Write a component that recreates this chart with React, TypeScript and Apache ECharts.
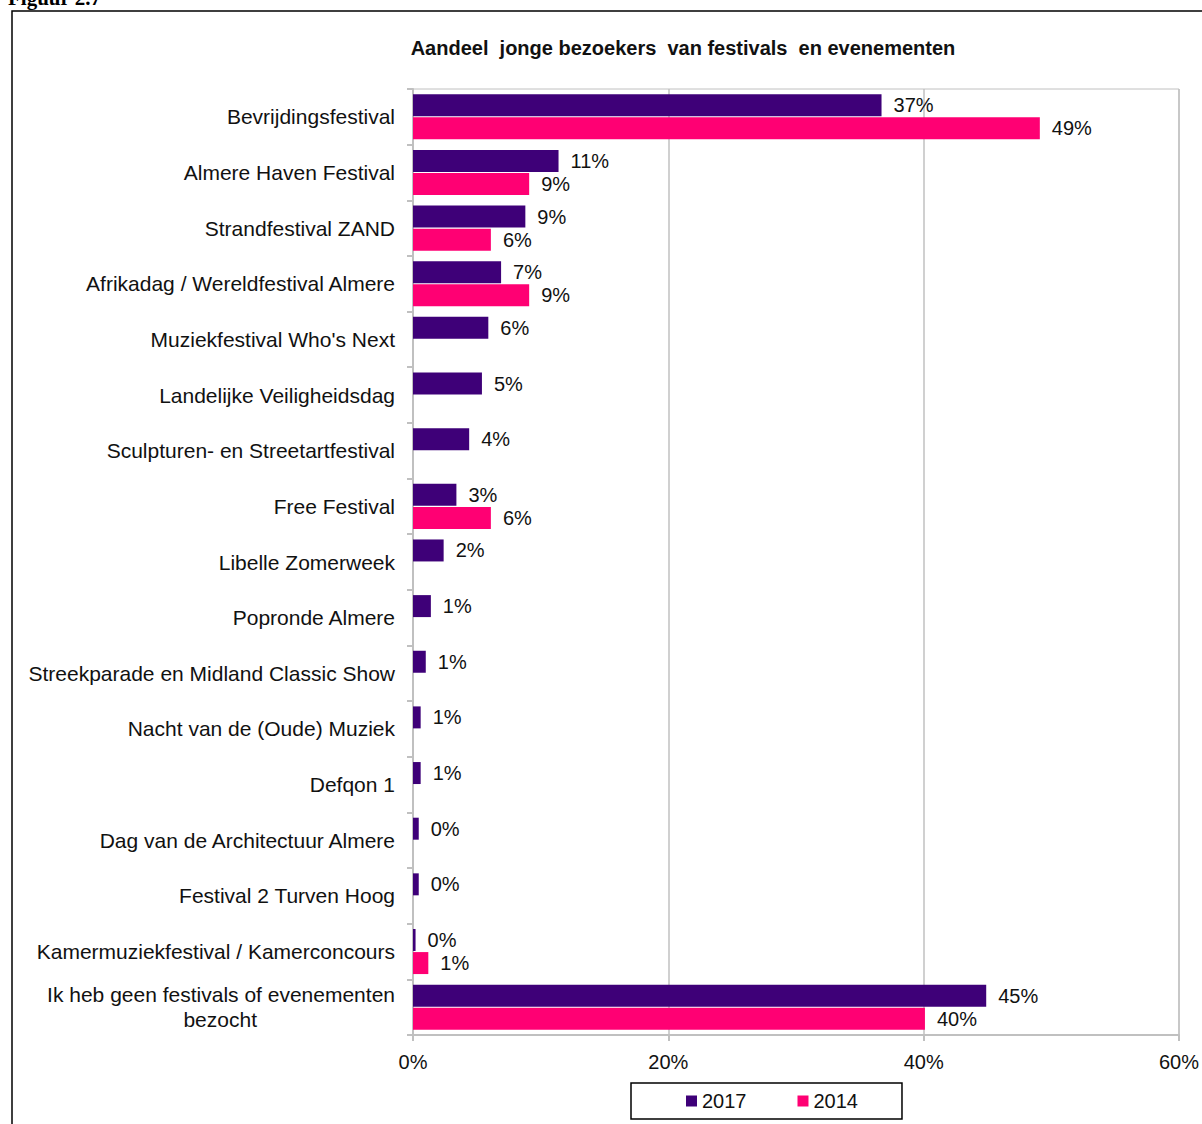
import React, { useEffect, useRef } from "react";
import * as echarts from "echarts";

const categories = [
  "Bevrijdingsfestival",
  "Almere Haven Festival",
  "Strandfestival ZAND",
  "Afrikadag / Wereldfestival Almere",
  "Muziekfestival Who's Next",
  "Landelijke Veiligheidsdag",
  "Sculpturen- en Streetartfestival",
  "Free Festival",
  "Libelle Zomerweek",
  "Popronde Almere",
  "Streekparade en Midland Classic Show",
  "Nacht van de (Oude) Muziek",
  "Defqon 1",
  "Dag van de Architectuur Almere",
  "Festival 2 Turven Hoog",
  "Kamermuziekfestival / Kamerconcours",
  "Ik heb geen festivals of evenementen\nbezocht",
];

const values2017 = [36.7, 11.4, 8.8, 6.9, 5.9, 5.4, 4.4, 3.4, 2.4, 1.4, 1.0, 0.6, 0.6, 0.45, 0.45, 0.2, 44.9];
const values2014 = [49.1, 9.1, 6.1, 9.1, null, null, null, 6.1, null, null, null, null, null, null, null, 1.2, 40.1];

const xTicks = [0, 20, 40, 60];

const FONT = "'Liberation Sans', Arial, sans-serif";

export default function App() {
  const ref = useRef<HTMLDivElement>(null);
  useEffect(() => {
    if (!ref.current) return;
    const chart = echarts.init(ref.current, undefined, { renderer: "svg" });
    const labelCfg = {
      show: true,
      position: "right",
      distance: 12,
      fontSize: 20,
      fontFamily: FONT,
      color: "#111",
      formatter: (p: any) => `${Math.round(p.value)}%`,
    };
    chart.setOption({
      animation: false,
      backgroundColor: "#fff",
      textStyle: { fontFamily: FONT },
      title: {
        text: "Aandeel  jonge bezoekers  van festivals  en evenementen",
        left: 678,
        top: 33,
        textAlign: "center",
        textStyle: { fontSize: 20, fontWeight: "bold", color: "#111", fontFamily: FONT },
      },
      graphic: [
        {
          type: "rect",
          shape: { x: 12, y: 11, width: 1300, height: 1300 },
          style: { fill: "none", stroke: "#000", lineWidth: 1.5 },
          silent: true,
          z: -1,
        },
        {
          type: "text",
          x: 8,
          y: 8,
          style: {
            text: "Figuur 2.7",
            font: "bold 21px 'Liberation Serif', 'Times New Roman', serif",
            fill: "#000",
            verticalAlign: "bottom",
          },
        },
      ],
      legend: {
        left: 631,
        top: 1083,
        padding: [8, 44, 8, 55],
        itemGap: 51,
        itemWidth: 11,
        itemHeight: 11,
        icon: "rect",
        borderColor: "#000",
        borderWidth: 1.5,
        textStyle: { fontSize: 20, color: "#111", fontFamily: FONT },
        data: ["2017", "2014"],
      },
      grid: {
        left: 413,
        right: 22,
        top: 89,
        bottom: 89,
        show: true,
        borderColor: "#c0c0c0",
        borderWidth: 1,
        containLabel: false,
      },
      xAxis: {
        type: "value",
        min: xTicks[0],
        max: xTicks[xTicks.length - 1],
        interval: 20,
        axisLine: { show: true, lineStyle: { color: "#c0c0c0", width: 2 } },
        axisTick: { show: true, length: 6, lineStyle: { color: "#c0c0c0", width: 2 } },
        splitLine: { show: true, lineStyle: { color: "#c0c0c0", width: 1.5 } },
        axisLabel: {
          margin: 17,
          fontSize: 20,
          color: "#111",
          fontFamily: FONT,
          formatter: "{value}%",
        },
      },
      yAxis: {
        type: "category",
        inverse: true,
        data: categories,
        axisLine: { show: true, lineStyle: { color: "#c0c0c0", width: 2 } },
        axisTick: { show: true, length: 6, lineStyle: { color: "#c0c0c0", width: 2 } },
        axisLabel: {
          margin: 18,
          fontSize: 21,
          color: "#111",
          fontFamily: FONT,
          lineHeight: 25,
          interval: 0,
          formatter: (v: string) => {
            const parts = v.split("\n");
            if (parts.length > 1) return parts[0] + "\n{b|" + parts[1] + "}";
            return v;
          },
          rich: {
            b: {
              fontSize: 21,
              color: "#111",
              fontFamily: FONT,
              padding: [0, 138, 0, 0],
              lineHeight: 25,
            },
          },
        },
      },
      series: [
        {
          name: "2017",
          type: "bar",
          data: values2017,
          barCategoryGap: "19%",
          barGap: "5%",
          itemStyle: { color: "#3E0078" },
          label: labelCfg,
        },
        {
          name: "2014",
          type: "bar",
          data: values2014,
          barCategoryGap: "19%",
          barGap: "5%",
          itemStyle: { color: "#FF0073" },
          label: labelCfg,
        },
      ],
    });
    return () => chart.dispose();
  }, []);
  return (
    <div
      ref={ref}
      style={{ position: "fixed", left: 0, top: 0, width: 1202, height: 1124 }}
    />
  );
}
